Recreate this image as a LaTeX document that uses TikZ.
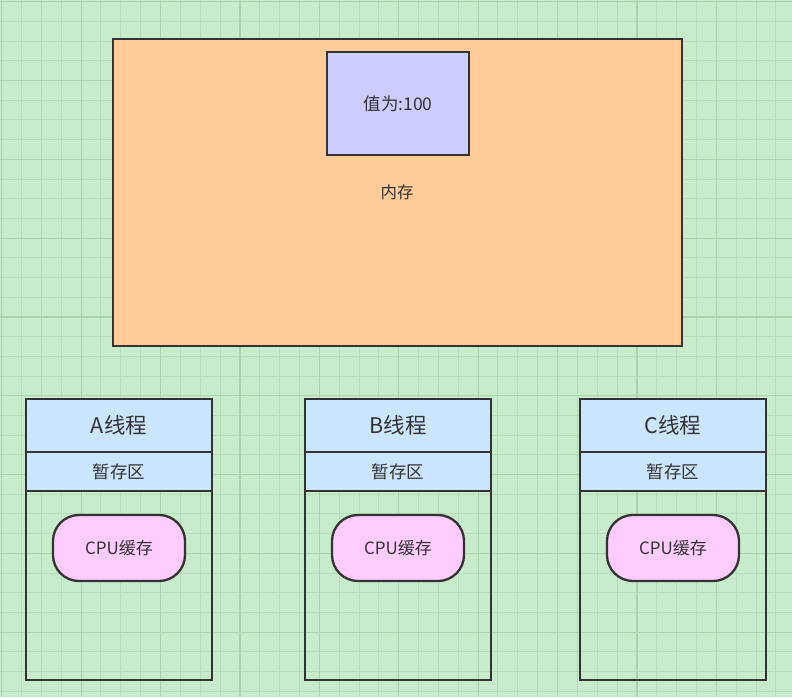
\documentclass[tikz,border=0pt]{standalone}
\usepackage{fontspec}
\setmainfont{Noto Sans CJK SC}
\definecolor{bg}{HTML}{C8ECCB}
\definecolor{gminor}{HTML}{B6DDB9}
\definecolor{gmajor}{HTML}{A8D3AB}
\definecolor{edge}{HTML}{333333}
\definecolor{memfill}{HTML}{FFCC99}
\definecolor{valfill}{HTML}{CCCCFF}
\definecolor{thfill}{HTML}{CCE5FF}
\definecolor{cpufill}{HTML}{FFCCFF}
\tikzset{
  box/.style={draw=edge, line width=2.3pt, inner sep=0pt, outer sep=0pt},
  txt/.style={text=edge, inner sep=0pt},
}
\begin{document}
\begin{tikzpicture}[x=1pt,y=-1pt]
\useasboundingbox (0,0) rectangle (792,697);
\fill[bg] (0,0) rectangle (792,697);
\foreach \i in {0,...,40} {
  \pgfmathsetmacro\xx{1.7+19.85*\i}
  \draw[gminor, line width=1pt] (\xx,0) -- (\xx,697);
}
\foreach \i in {0,...,36} {
  \pgfmathsetmacro\yy{1.7+19.7*\i}
  \draw[gminor, line width=1pt] (0,\yy) -- (792,\yy);
}
\foreach \i in {0,...,10} {
  \pgfmathsetmacro\xx{1.7+79.4*\i}
  \draw[gmajor, line width=1.2pt] (\xx,0) -- (\xx,697);
}
\foreach \i in {0,...,9} {
  \pgfmathsetmacro\yy{1.7+78.8*\i}
  \draw[gmajor, line width=1.2pt] (0,\yy) -- (792,\yy);
}
% memory
\node[box, fill=memfill, minimum width=569pt, minimum height=307pt, anchor=north west] (mem) at (113,39) {};
\node[box, fill=valfill, minimum width=142pt, minimum height=103pt, anchor=north west] (val) at (327,52) {};
\node[txt, font=\fontsize{17.5}{17.5}\selectfont] (valtxt) at (val.center) {值为:100};
\node[txt, font=\fontsize{16.5}{16.5}\selectfont] (memtxt) at (397,192) {内存};
% threads
\foreach \n/\x/\lab in {a/26/A, b/305/B, c/580/C} {
  \node[box, minimum width=186pt, minimum height=281pt, anchor=north west] (\n body) at (\x,399) {};
  \node[box, fill=thfill, minimum width=186pt, minimum height=53pt, anchor=north west] (\n head) at (\x,399) {};
  \node[box, fill=thfill, minimum width=186pt, minimum height=39pt, anchor=north west] (\n reg) at (\x,452) {};
  \node[txt, font=\fontsize{21.5}{21.5}\selectfont] (\n headtxt) at (\n head.center) {\lab 线程};
  \node[txt, font=\fontsize{17.5}{17.5}\selectfont] (\n regtxt) at (\n reg.center) {暂存区};
  \node[box, fill=cpufill, rounded corners=26pt, minimum width=132pt, minimum height=66pt, anchor=north west] (\n cpu) at (\x+27,515) {};
  \node[txt, font=\fontsize{17}{17}\selectfont] (\n cputxt) at (\n cpu.center) {CPU缓存};
}
\end{tikzpicture}
\end{document}
